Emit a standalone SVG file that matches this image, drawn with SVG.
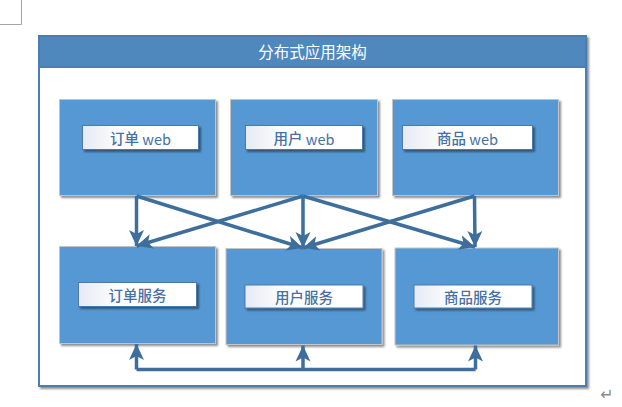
<svg xmlns="http://www.w3.org/2000/svg" width="622" height="407" viewBox="0 0 622 407">
<defs>
<linearGradient id="lg" x1="0" y1="0" x2="1" y2="0">
<stop offset="0" stop-color="#e6eaf3"/>
<stop offset="0.35" stop-color="#ffffff"/>
<stop offset="1" stop-color="#ffffff"/>
</linearGradient>
<filter id="sh" x="-10%" y="-10%" width="130%" height="130%">
<feGaussianBlur in="SourceAlpha" stdDeviation="1.2"/>
<feOffset dx="2" dy="2" result="b"/>
<feComponentTransfer><feFuncA type="linear" slope="0.45"/></feComponentTransfer>
<feMerge><feMergeNode/><feMergeNode in="SourceGraphic"/></feMerge>
</filter>
<marker id="ah" markerUnits="userSpaceOnUse" markerWidth="17" markerHeight="17" viewBox="0 0 17 17" refX="16" refY="8.5" orient="auto">
<path d="M0,1 L16,8.5 L0,16 L4,8.5 z" fill="#3e6e9c"/>
</marker>
</defs>
<style>
.box{fill:#5698d3;stroke:#c4c4c4;stroke-width:1;filter:url(#sh)}
.lbl{fill:url(#lg);stroke:#4b7aaa;stroke-width:1;filter:url(#sh)}
.t{font-family:"Noto Sans CJK SC","Noto Sans",sans-serif;font-size:14.5px;font-weight:500;fill:#4470a4;text-anchor:middle;dominant-baseline:central}
.w{font-weight:400}
.conn{fill:none;stroke:#3e6e9c;stroke-width:3.5;stroke-linejoin:round}
</style>
<path d="M21.5,0 V24.5 H0" fill="none" stroke="#a6a6a6" stroke-width="1"/>
<g id="frame">
<rect x="39" y="36" width="547" height="350" fill="#ffffff" stroke="#4a7eb2" stroke-width="2" filter="url(#sh)"/>
<rect x="39" y="36" width="547" height="31" fill="#4f88bc" stroke="#4a7eb2" stroke-width="2"/>
<text x="312.5" y="51" style="font-family:'Noto Sans CJK SC',sans-serif;font-size:15.5px;fill:#ffffff;text-anchor:middle;dominant-baseline:central">分布式应用架构</text>
</g>
<g id="order-web">
<rect class="box" x="59.5" y="99.5" width="156" height="96"/>
<rect class="lbl" x="82.5" y="125.5" width="116" height="24"/>
<text class="t" x="140.5" y="137.5">订单 <tspan class="w">web</tspan></text>
</g>
<g id="user-web">
<rect class="box" x="230.5" y="99.5" width="147" height="96"/>
<rect class="lbl" x="245.5" y="125.5" width="117" height="24"/>
<text class="t" x="304" y="137.5">用户 <tspan class="w">web</tspan></text>
</g>
<g id="goods-web">
<rect class="box" x="392.5" y="99.5" width="166" height="96"/>
<rect class="lbl" x="402.5" y="125.5" width="130" height="24"/>
<text class="t" x="467.5" y="137.5">商品 <tspan class="w">web</tspan></text>
</g>
<g id="order-svc">
<rect class="box" x="59.5" y="246.5" width="156" height="97"/>
<rect class="lbl" x="78.5" y="282.5" width="118" height="24"/>
<text class="t" x="137.5" y="294.5">订单服务</text>
</g>
<g id="user-svc">
<rect class="box" x="226" y="248.5" width="156" height="96"/>
<rect class="lbl" x="245" y="285" width="118" height="23"/>
<text class="t" x="304" y="296.5">用户服务</text>
</g>
<g id="goods-svc">
<rect class="box" x="395" y="248" width="163.5" height="97"/>
<rect class="lbl" x="414" y="285" width="118" height="23"/>
<text class="t" x="473" y="296.5">商品服务</text>
</g>
<g id="connectors">
<path class="conn" d="M136.5,196 L136.5,246" marker-end="url(#ah)"/>
<path class="conn" d="M136.5,196 L303,248" marker-end="url(#ah)"/>
<path class="conn" d="M303,196 L136.5,246" marker-end="url(#ah)"/>
<path class="conn" d="M303,196 L303,248" marker-end="url(#ah)"/>
<path class="conn" d="M303,196 L475,247" marker-end="url(#ah)"/>
<path class="conn" d="M474.5,196 L303,248" marker-end="url(#ah)"/>
<path class="conn" d="M474.5,196 L475,247" marker-end="url(#ah)"/>
<path class="conn" d="M136.5,369.5 L136.5,344" marker-end="url(#ah)"/>
<path class="conn" d="M303,369.5 L303,345.5" marker-end="url(#ah)"/>
<path class="conn" d="M475.5,369.5 L475.5,345.5" marker-end="url(#ah)"/>
<path class="conn" d="M136.5,369.5 H475.5"/>
</g>
<text x="607" y="394" style="font-family:'DejaVu Sans',sans-serif;font-size:16px;fill:#8c8c8c;text-anchor:middle;dominant-baseline:central">↵</text>
</svg>
